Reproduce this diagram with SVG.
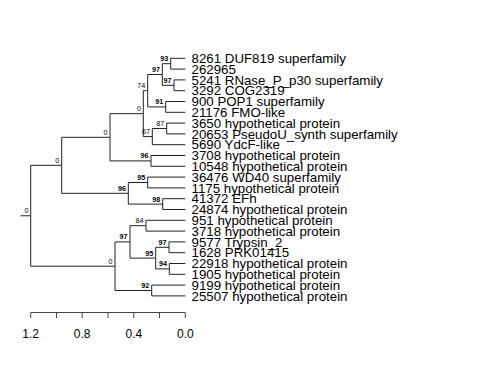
<svg xmlns="http://www.w3.org/2000/svg" width="480" height="384" viewBox="0 0 480 384">
<style>
.bg{fill:#fff}
.e{fill:none;stroke:#222;stroke-width:1}
.leaf{font-family:"Liberation Sans",Arial,sans-serif;font-size:13.3px;fill:#000}
.bs{font-family:"Liberation Sans",Arial,sans-serif;font-size:7.2px;fill:#000;text-anchor:end}
.b{font-weight:bold}
.ax{font-family:"Liberation Sans",Arial,sans-serif;font-size:12px;fill:#000;text-anchor:middle}
.axl{fill:none;stroke:#444;stroke-width:1}
</style>
<rect class="bg" x="0" y="0" width="480" height="384"/>
<g id="connectors">
<path class="e" d="M20.7 215.75H30.7"/>
<path class="e" d="M30.7 215.75V165.3H61.7"/>
<path class="e" d="M30.7 215.75V266.2H115"/>
<path class="e" d="M61.7 165.3V137.3H110"/>
<path class="e" d="M61.7 165.3V193.3H128.3"/>
<path class="e" d="M110 137.3V113.65H143.3"/>
<path class="e" d="M110 137.3V160.9H151"/>
<path class="e" d="M143.3 113.65V90.7H147.7"/>
<path class="e" d="M143.3 113.65V136.6H152.3"/>
<path class="e" d="M147.7 90.7V74.5H162.3"/>
<path class="e" d="M147.7 90.7V106.9H165.7"/>
<path class="e" d="M162.3 74.5V63.7H170.7"/>
<path class="e" d="M162.3 74.5V85.3H174"/>
<path class="e" d="M170.7 63.7V58.3H185.3"/>
<path class="e" d="M170.7 63.7V69.1H185.3"/>
<path class="e" d="M174 85.3V79.9H185.3"/>
<path class="e" d="M174 85.3V90.7H185.3"/>
<path class="e" d="M165.7 106.9V101.5H185.3"/>
<path class="e" d="M165.7 106.9V112.3H185.3"/>
<path class="e" d="M152.3 136.6V128.5H166.7"/>
<path class="e" d="M152.3 136.6V144.7H185.3"/>
<path class="e" d="M166.7 128.5V123.1H185.3"/>
<path class="e" d="M166.7 128.5V133.9H185.3"/>
<path class="e" d="M151 160.9V155.5H185.3"/>
<path class="e" d="M151 160.9V166.3H185.3"/>
<path class="e" d="M128.3 193.3V182.5H147.7"/>
<path class="e" d="M128.3 193.3V204.1H162.7"/>
<path class="e" d="M147.7 182.5V177.1H185.3"/>
<path class="e" d="M147.7 182.5V187.9H185.3"/>
<path class="e" d="M162.7 204.1V198.7H185.3"/>
<path class="e" d="M162.7 204.1V209.5H185.3"/>
<path class="e" d="M115 266.2V241.9H130"/>
<path class="e" d="M115 266.2V290.5H151.7"/>
<path class="e" d="M130 241.9V225.7H146"/>
<path class="e" d="M130 241.9V258.1H155.7"/>
<path class="e" d="M146 225.7V220.3H185.3"/>
<path class="e" d="M146 225.7V231.1H185.3"/>
<path class="e" d="M155.7 258.1V247.3H169"/>
<path class="e" d="M155.7 258.1V268.9H169.3"/>
<path class="e" d="M169 247.3V241.9H185.3"/>
<path class="e" d="M169 247.3V252.7H185.3"/>
<path class="e" d="M169.3 268.9V263.5H185.3"/>
<path class="e" d="M169.3 268.9V274.3H185.3"/>
<path class="e" d="M151.7 290.5V285.1H185.3"/>
<path class="e" d="M151.7 290.5V295.9H185.3"/>
</g>
<g id="n_root"><text class="bs" x="28.5" y="213.2">0</text></g>
<g id="n_0a"><text class="bs" x="59.3" y="162.8">0</text></g>
<g id="n_0b"><text class="bs" x="107.6" y="134.8">0</text></g>
<g id="n_0c"><text class="bs" x="140.9" y="111.1">0</text></g>
<g id="n_74"><text class="bs" x="145.3" y="88.2">74</text></g>
<g id="n_97a"><text class="bs b" x="159.9" y="72">97</text></g>
<g id="n_93"><text class="bs b" x="168.3" y="61.2">93</text></g>
<g id="n_97b"><text class="bs b" x="171.6" y="82.8">97</text></g>
<g id="n_91"><text class="bs b" x="163.3" y="104.4">91</text></g>
<g id="n_67"><text class="bs" x="149.9" y="134.1">67</text></g>
<g id="n_87"><text class="bs" x="164.3" y="126">87</text></g>
<g id="n_96a"><text class="bs b" x="148.6" y="158.4">96</text></g>
<g id="n_96b"><text class="bs b" x="125.9" y="190.8">96</text></g>
<g id="n_95a"><text class="bs b" x="145.3" y="180">95</text></g>
<g id="n_98"><text class="bs b" x="160.3" y="201.6">98</text></g>
<g id="n_0d"><text class="bs" x="112.6" y="263.7">0</text></g>
<g id="n_97d"><text class="bs b" x="127.6" y="239.4">97</text></g>
<g id="n_84"><text class="bs" x="143.6" y="223.2">84</text></g>
<g id="n_95b"><text class="bs b" x="153.3" y="255.6">95</text></g>
<g id="n_97c"><text class="bs b" x="166.6" y="244.8">97</text></g>
<g id="n_94"><text class="bs b" x="166.9" y="266.4">94</text></g>
<g id="n_92"><text class="bs b" x="149.3" y="288">92</text></g>
<g id="leaf0"><text class="leaf" x="191.5" y="63">8261 DUF819 superfamily</text></g>
<g id="leaf1"><text class="leaf" x="191.5" y="73.8">262965</text></g>
<g id="leaf2"><text class="leaf" x="191.5" y="84.6">5241 RNase_P_p30 superfamily</text></g>
<g id="leaf3"><text class="leaf" x="191.5" y="95.4">3292 COG2319</text></g>
<g id="leaf4"><text class="leaf" x="191.5" y="106.2">900 POP1 superfamily</text></g>
<g id="leaf5"><text class="leaf" x="191.5" y="117">21176 FMO-like</text></g>
<g id="leaf6"><text class="leaf" x="191.5" y="127.8">3650 hypothetical protein</text></g>
<g id="leaf7"><text class="leaf" x="191.5" y="138.6">20653 PseudoU_synth superfamily</text></g>
<g id="leaf8"><text class="leaf" x="191.5" y="149.4">5690 YdcF-like</text></g>
<g id="leaf9"><text class="leaf" x="191.5" y="160.2">3708 hypothetical protein</text></g>
<g id="leaf10"><text class="leaf" x="191.5" y="171">10548 hypothetical protein</text></g>
<g id="leaf11"><text class="leaf" x="191.5" y="181.8">36476 WD40 superfamily</text></g>
<g id="leaf12"><text class="leaf" x="191.5" y="192.6">1175 hypothetical protein</text></g>
<g id="leaf13"><text class="leaf" x="191.5" y="203.4">41372 EFh</text></g>
<g id="leaf14"><text class="leaf" x="191.5" y="214.2">24874 hypothetical protein</text></g>
<g id="leaf15"><text class="leaf" x="191.5" y="225">951 hypothetical protein</text></g>
<g id="leaf16"><text class="leaf" x="191.5" y="235.8">3718 hypothetical protein</text></g>
<g id="leaf17"><text class="leaf" x="191.5" y="246.6">9577 Trypsin_2</text></g>
<g id="leaf18"><text class="leaf" x="191.5" y="257.4">1628 PRK01415</text></g>
<g id="leaf19"><text class="leaf" x="191.5" y="268.2">22918 hypothetical protein</text></g>
<g id="leaf20"><text class="leaf" x="191.5" y="279">1905 hypothetical protein</text></g>
<g id="leaf21"><text class="leaf" x="191.5" y="289.8">9199 hypothetical protein</text></g>
<g id="leaf22"><text class="leaf" x="191.5" y="300.6">25507 hypothetical protein</text></g>
<g id="axis">
<path class="axl" d="M30.7 312.5H185.3M30.7 312.5V318M56.5 312.5V318M82.2 312.5V318M108 312.5V318M133.8 312.5V318M159.5 312.5V318M185.3 312.5V318"/>
<text class="ax" x="30.7" y="338">1.2</text>
<text class="ax" x="82.2" y="338">0.8</text>
<text class="ax" x="133.8" y="338">0.4</text>
<text class="ax" x="185.3" y="338">0.0</text>
</g>
</svg>
